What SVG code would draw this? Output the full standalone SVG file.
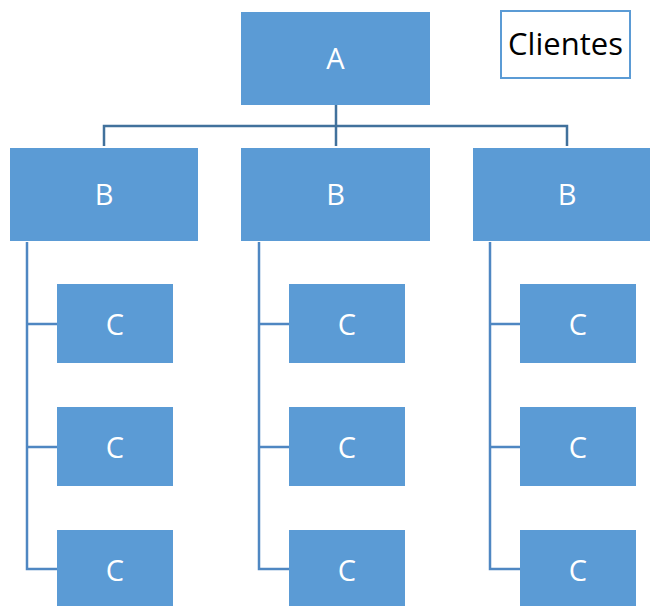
<svg xmlns="http://www.w3.org/2000/svg" width="650" height="606" viewBox="0 0 650 606">
<style>
.box{fill:#5B9BD5}
.lbl{fill:#fff;font-family:"Open Sans","Liberation Sans",sans-serif;font-size:29px;text-anchor:middle;dominant-baseline:central}
.ln{fill:none;stroke:#41719C;stroke-width:2.5}
.ln2{fill:none;stroke:#4F87C2;stroke-width:2.5}
</style>
<rect width="650" height="606" fill="#fff"/>
<g id="connectors">
<path class="ln" d="M336 105V146M104 146V126H567V146"/>
<path class="ln2" d="M27 242V569H57M27 324H57M27 447H57"/>
<path class="ln2" d="M259 242V569H289M259 324H289M259 447H289"/>
<path class="ln2" d="M490 242V569H520M490 324H520M490 447H520"/>
</g>
<g id="legend">
<rect x="501" y="11" width="129" height="67" fill="#fff" stroke="#5B9BD5" stroke-width="2"/>
<text x="565.5" y="43" style="font-family:'Open Sans','Liberation Sans',sans-serif;font-size:31px;text-anchor:middle;dominant-baseline:central;fill:#000">Clientes</text>
</g>
<g id="A"><rect class="box" x="241" y="12" width="189" height="93"/><text class="lbl" x="335.5" y="57">A</text></g>
<g id="B1"><rect class="box" x="10" y="148" width="188" height="93"/><text class="lbl" x="104" y="193">B</text></g>
<g id="B2"><rect class="box" x="241" y="148" width="189" height="93"/><text class="lbl" x="335.5" y="193">B</text></g>
<g id="B3"><rect class="box" x="473" y="148" width="189" height="93"/><text class="lbl" x="567" y="193">B</text></g>
<g id="C11"><rect class="box" x="57" y="284" width="116" height="79"/><text class="lbl" x="115" y="323">C</text></g>
<g id="C12"><rect class="box" x="57" y="407" width="116" height="79"/><text class="lbl" x="115" y="446">C</text></g>
<g id="C13"><rect class="box" x="57" y="530" width="116" height="79"/><text class="lbl" x="115" y="569">C</text></g>
<g id="C21"><rect class="box" x="289" y="284" width="116" height="79"/><text class="lbl" x="347" y="323">C</text></g>
<g id="C22"><rect class="box" x="289" y="407" width="116" height="79"/><text class="lbl" x="347" y="446">C</text></g>
<g id="C23"><rect class="box" x="289" y="530" width="116" height="79"/><text class="lbl" x="347" y="569">C</text></g>
<g id="C31"><rect class="box" x="520" y="284" width="116" height="79"/><text class="lbl" x="578" y="323">C</text></g>
<g id="C32"><rect class="box" x="520" y="407" width="116" height="79"/><text class="lbl" x="578" y="446">C</text></g>
<g id="C33"><rect class="box" x="520" y="530" width="116" height="79"/><text class="lbl" x="578" y="569">C</text></g>
</svg>
